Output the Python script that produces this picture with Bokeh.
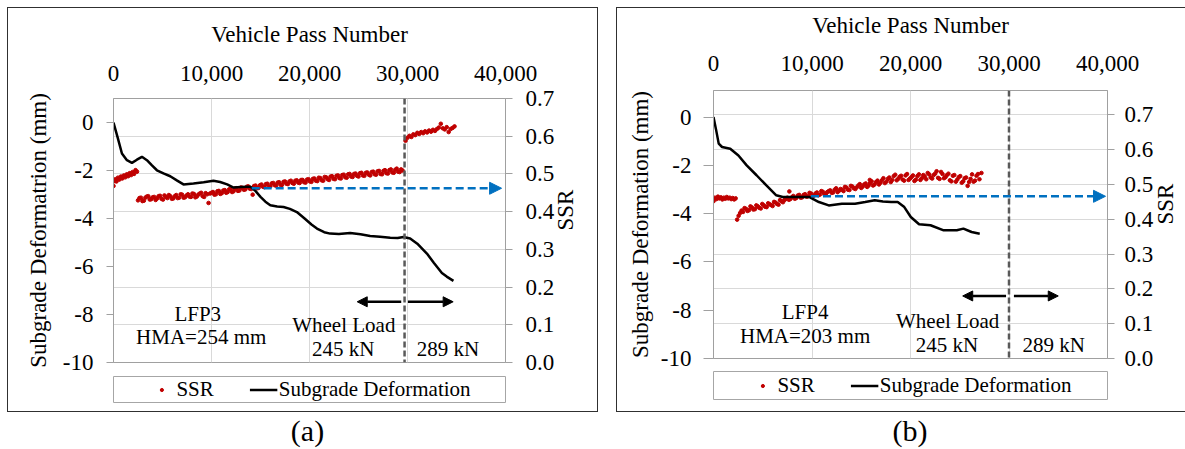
import math
from bokeh.plotting import figure
from bokeh.models import (Range1d, LinearAxis, FixedTicker, NumeralTickFormatter, Grid, Span,
                          Arrow, NormalHead, Label, Legend, LegendItem, Div, Spacer)
from bokeh.layouts import row, column
from bokeh.embed import file_html
from bokeh.resources import INLINE

# ---------------------------------------------------------------- data
X_TICKS = [0, 10000, 20000, 30000, 40000]
X_GRID = [10000, 20000, 30000]
DEF_TICKS = [-10, -8, -6, -4, -2, 0]
SSR_TICKS = [0.0, 0.1, 0.2, 0.3, 0.4, 0.5, 0.6, 0.7]
X_TITLE = "Vehicle Pass Number"
SSR_TITLE = "SSR"
LEGEND_LABELS = ["SSR", "Subgrade Deformation"]

# ---- panel (a) LFP3
A_DEF_TITLE = "Subgrade Deformatrion (mm)"
A_DEF_PASS = [0, 420, 860, 1370, 1880, 2390, 2900, 3410, 3900, 4430,
              5100, 5790, 6500, 7140, 8160, 9200, 10200, 10880, 11600, 12250,
              13000, 13610, 14000, 14500, 15000, 15500, 16000, 16700, 17350, 18000,
              18710, 19500, 20200, 20760, 21500, 22110, 23000, 24150, 25200, 26190,
              27200, 28240, 29000, 29590, 30270, 31000, 31980, 32700, 33510, 34000,
              34690]
A_DEF = [0.0, -0.62, -1.29, -1.57, -1.68, -1.55, -1.43, -1.57, -1.78, -1.99,
         -2.12, -2.24, -2.42, -2.58, -2.54, -2.49, -2.43, -2.48, -2.58, -2.71,
         -2.69, -2.68, -2.68, -2.86, -3.10, -3.30, -3.45, -3.50, -3.52, -3.60,
         -3.73, -4.00, -4.25, -4.42, -4.57, -4.63, -4.65, -4.60, -4.66, -4.73,
         -4.76, -4.80, -4.81, -4.77, -4.83, -5.05, -5.46, -5.85, -6.27, -6.42,
         -6.60]
A_SSR_PASS = [0, 100, 200, 300, 450, 600, 750, 900, 1050, 1200, 1350, 1500, 1650, 1800, 1950, 2100, 2250, 2400,
              2500, 2800, 3100, 3400, 3700, 4000, 4300, 4600, 4900, 5200,
              5500, 5800, 6100, 6400, 6700, 7000, 7300, 7600, 7900, 8200,
              8500, 8800, 9100, 9400, 9700, 10000, 10300, 10600, 10900, 11200,
              11500, 11800, 12100, 12400, 12700, 13000, 13300, 13600, 13900, 14200,
              14500, 14800, 15100, 15400, 15700, 16000, 16300, 16600, 16900, 17200,
              17500, 17800, 18100, 18400, 18700, 19000, 19300, 19600, 19900, 20200,
              20500, 20800, 21100, 21400, 21700, 22000, 22300, 22600, 22900, 23200,
              23500, 23800, 24100, 24400, 24700, 25000, 25300, 25600, 25900, 26200,
              26500, 26800, 27100, 27400, 27700, 28000, 28300, 28600, 28900, 29200,
              29500,
              29800, 30000, 30200, 30400, 30600, 30800, 31000, 31200, 31400, 31600,
              31800, 32000, 32200, 32400, 32600, 32800, 33000, 33200, 33400, 33600,
              33800, 34000, 34200, 34400, 34600, 34800,
              2650, 2950, 3250, 3550, 3850, 4150, 4450, 4750, 5050, 5350,
              5650, 5950, 6250, 6550, 6850, 7150, 7450, 7750, 8050, 8350,
              8650, 8950, 9250, 9550, 9850, 10150, 10450,
              10750, 11050, 11350, 11650, 11950, 12250, 12550, 12850, 13150, 13450,
              13750, 14050, 14350, 14650, 14950, 15250, 15550, 15850, 16150, 16450,
              16750, 17050, 17350, 17650, 17950, 18250, 18550, 18850, 19150, 19450,
              19750, 20050, 20350, 20650, 20950, 21250, 21550, 21850, 22150, 22450,
              22750, 23050, 23350, 23650, 23950, 24250, 24550, 24850, 25150, 25450,
              25750, 26050, 26350, 26650, 26950, 27250, 27550, 27850, 28150, 28450,
              28750, 29050, 29350]
A_SSR = [0.468, 0.481, 0.486, 0.480, 0.490, 0.485, 0.493, 0.488, 0.496, 0.491, 0.499, 0.494, 0.502, 0.497, 0.505, 0.500, 0.510, 0.506,
         0.430, 0.437, 0.429, 0.440, 0.432, 0.438, 0.431, 0.441, 0.434, 0.443,
         0.436, 0.441, 0.435, 0.444, 0.437, 0.445, 0.438, 0.446, 0.439, 0.447,
         0.440, 0.448, 0.441, 0.449, 0.423, 0.450, 0.445, 0.454, 0.447, 0.456,
         0.450, 0.459, 0.452, 0.461, 0.455, 0.464, 0.458, 0.466, 0.461, 0.445,
         0.469, 0.463, 0.472, 0.465, 0.474, 0.467, 0.476, 0.469, 0.478, 0.471,
         0.480, 0.473, 0.482, 0.474, 0.483, 0.476, 0.484, 0.477, 0.486, 0.479,
         0.488, 0.481, 0.489, 0.482, 0.491, 0.484, 0.494, 0.486, 0.496, 0.488,
         0.498, 0.490, 0.500, 0.492, 0.501, 0.493, 0.503, 0.495, 0.504, 0.496,
         0.506, 0.498, 0.508, 0.499, 0.510, 0.501, 0.512, 0.503, 0.514, 0.505,
         0.509,
         0.588, 0.596, 0.601, 0.598, 0.605, 0.603, 0.609, 0.606, 0.611, 0.608,
         0.613, 0.610, 0.615, 0.612, 0.617, 0.614, 0.619, 0.623, 0.633, 0.621,
         0.618, 0.624, 0.611, 0.619, 0.622, 0.626,
         0.436, 0.428, 0.437, 0.441, 0.433, 0.439, 0.435, 0.442, 0.432, 0.439,
         0.444, 0.434, 0.441, 0.436, 0.446, 0.437, 0.443, 0.440, 0.448, 0.438,
         0.445, 0.450, 0.439, 0.446, 0.448, 0.452, 0.446,
         0.455, 0.449, 0.457, 0.452, 0.460, 0.454, 0.462, 0.456, 0.463, 0.459,
         0.467, 0.460, 0.468, 0.462, 0.470, 0.466, 0.473, 0.466, 0.475, 0.470,
         0.477, 0.471, 0.479, 0.474, 0.480, 0.476, 0.482, 0.477, 0.484, 0.478,
         0.485, 0.480, 0.487, 0.482, 0.490, 0.483, 0.492, 0.486, 0.493, 0.487,
         0.495, 0.489, 0.497, 0.491, 0.499, 0.493, 0.500, 0.495, 0.502, 0.496,
         0.503, 0.498, 0.505, 0.499, 0.507, 0.500, 0.508, 0.502, 0.510, 0.504,
         0.511, 0.506, 0.512]
A_LOAD_CHANGE = 29700
A_REF_SSR = 0.462
A_REF_FROM, A_REF_TO = 14100, 39600
A_ARROW_Y = -7.47
A_ARROWS = [(29360, 24870), (30040, 34660)]
A_NOTES = [("LFP3", 8600, -7.96), ("HMA=254 mm", 8950, -8.93),
           ("Wheel Load", 23500, -8.45), ("245 kN", 23440, -9.42), ("289 kN", 34130, -9.42)]
A_CAPTION = "(a)"

# ---- panel (b) LFP4
B_DEF_TITLE = "Subgrade Deformation (mm)"
B_DEF_PASS = [0, 250, 530, 870, 1700, 2530, 3370, 4370, 5370, 6370,
              7030, 8370, 9700, 10700, 11700, 13030, 14370, 15400, 16370, 17200,
              18030, 18700, 19370, 20030, 20870, 22030, 23370, 24700, 25370, 26200,
              27030]
B_DEF = [0.0, -0.50, -1.10, -1.24, -1.31, -1.59, -2.00, -2.41, -2.83, -3.24,
         -3.31, -3.31, -3.31, -3.52, -3.66, -3.59, -3.59, -3.52, -3.45, -3.50,
         -3.52, -3.52, -3.73, -4.14, -4.44, -4.48, -4.69, -4.69, -4.62, -4.76,
         -4.83]
B_SSR_PASS = [0, 150, 300, 450, 600, 750, 900, 1050, 1200, 1350, 1500, 1650, 1800, 1950, 2100, 2250,
              2400, 2550, 2700, 2850,
              3000, 3300, 3600, 3900, 4200, 4500, 4800, 5100, 5400, 5700,
              6000, 6300, 6600, 6900, 7200, 7500, 7800, 8100, 8400, 8700,
              9000, 9300, 9600, 9900, 10200, 10500, 10800, 11100, 11400, 11700,
              12000, 12300, 12600, 12900, 13200, 13500, 13800, 14100, 14400, 14700,
              15000, 15300, 15600, 15900, 16200, 16500, 16800, 17100, 17400, 17700,
              18000, 18300, 18600, 18900, 19200, 19500, 19800, 20100, 20400, 20700,
              21000, 21300, 21600, 21900, 22200, 22500, 22800, 23100, 23400, 23700,
              24000, 24300, 24600, 24900, 25200, 25500, 25800, 26100, 26400, 26700,
              27000, 27200, 7700, 15870,
              3150, 3450, 3750, 4050, 4350, 4650, 4950, 5250, 5550, 5850,
              6150, 6450, 6750, 7050, 7350, 7650, 7950, 8250, 8550, 8850,
              9150, 9450, 9750, 10050, 10350, 10650, 10950, 11250, 11550, 11850,
              12150, 12450, 12750, 13050, 13350, 13650, 13950, 14250, 14550, 14850,
              15150, 15450, 15750, 16050, 16350, 16650, 16950, 17250, 17550, 17850,
              18150, 18450, 18750, 19050, 19350, 19650, 19950, 20250, 20550, 20850,
              21150, 21450, 21750, 22050, 22350, 22650, 22950, 23250, 23550, 23850,
              24150, 24450, 24750, 25050, 25350, 25650, 25950, 26250, 26550, 26850]
B_SSR = [0.452, 0.462, 0.458, 0.465, 0.460, 0.463, 0.457, 0.462, 0.459, 0.464, 0.460, 0.462, 0.458, 0.461, 0.457, 0.460,
         0.399, 0.410, 0.418, 0.425,
         0.421, 0.430, 0.426, 0.434, 0.429, 0.437, 0.431, 0.440, 0.435, 0.443,
         0.438, 0.448, 0.442, 0.452, 0.455, 0.462, 0.458, 0.467, 0.461, 0.470,
         0.463, 0.472, 0.466, 0.474, 0.468, 0.477, 0.471, 0.479, 0.473, 0.481,
         0.476, 0.485, 0.478, 0.487, 0.481, 0.491, 0.484, 0.494, 0.487, 0.497,
         0.490, 0.500, 0.493, 0.504, 0.497, 0.507, 0.500, 0.512, 0.504, 0.516,
         0.507, 0.524, 0.512, 0.522, 0.514, 0.526, 0.513, 0.521, 0.510, 0.524,
         0.513, 0.527, 0.515, 0.529, 0.517, 0.531, 0.519, 0.536, 0.518, 0.527,
         0.512, 0.525, 0.508, 0.521, 0.505, 0.518, 0.496, 0.516, 0.508, 0.525,
         0.515, 0.533, 0.480, 0.513,
         0.432, 0.424, 0.437, 0.428, 0.440, 0.433, 0.444, 0.436, 0.446, 0.441,
         0.450, 0.444, 0.455, 0.449, 0.459, 0.456, 0.463, 0.459, 0.468, 0.462,
         0.470, 0.465, 0.476, 0.467, 0.474, 0.469, 0.481, 0.472, 0.478, 0.483,
         0.477, 0.489, 0.482, 0.485, 0.493, 0.485, 0.496, 0.489, 0.492, 0.501,
         0.494, 0.503, 0.497, 0.509, 0.500, 0.511, 0.505, 0.518, 0.508, 0.520,
         0.513, 0.528, 0.516, 0.525, 0.511, 0.530, 0.517, 0.526, 0.514, 0.529,
         0.518, 0.523, 0.533, 0.520, 0.527, 0.538, 0.516, 0.530, 0.521, 0.531,
         0.509, 0.527, 0.514, 0.524, 0.509, 0.520, 0.507, 0.529, 0.511, 0.530]
B_LOAD_CHANGE = 30000
B_REF_SSR = 0.466
B_REF_FROM, B_REF_TO = 9900, 39800
B_ARROW_Y = -7.41
B_ARROWS = [(29700, 25300), (30500, 35000)]
B_NOTES = [("LFP4", 9300, -8.07), ("HMA=203 mm", 9300, -9.07),
           ("Wheel Load", 23770, -8.44), ("245 kN", 23700, -9.45), ("289 kN", 34550, -9.45)]
B_CAPTION = "(b)"

# ---------------------------------------------------------------- style
FONT = "Liberation Serif"
TICK_FS = "23px"
NOTE_FS = "21px"
RED = "#C00000"
BLUE = "#0070C0"
AXIS_GRAY = "#a0a0a0"
GRID_GRAY = "#d9d9d9"
MARKER_SIZE = 3.6


def style_axis(ax, tick_out, std, lab_std):
    ax.major_label_text_font = FONT
    ax.major_label_text_font_size = TICK_FS
    ax.major_label_text_color = "black"
    ax.axis_label_text_font = FONT
    ax.axis_label_text_font_size = TICK_FS
    ax.axis_label_text_font_style = "normal"
    ax.axis_label_text_color = "black"
    ax.axis_line_color = AXIS_GRAY
    ax.major_tick_line_color = AXIS_GRAY if tick_out > 0 else None
    ax.major_tick_out = tick_out
    ax.major_tick_in = 0
    ax.minor_tick_line_color = None
    ax.major_label_standoff = std
    ax.axis_label_standoff = lab_std


def main_plot(g, def_title, def_pass, def_vals, ssr_pass, ssr_vals, load_change,
              ref_ssr, ref_from, ref_to, arrow_y, arrows, notes):
    p = figure(width=g["width"], height=g["height"], x_range=Range1d(0, 40000),
               y_range=Range1d(-10, g["y_top"]), x_axis_location="above",
               output_backend="svg", toolbar_location=None,
               min_border_left=g["left"], min_border_right=g["right"],
               min_border_top=g["top"], min_border_bottom=g["bottom"])
    p.extra_y_ranges = {"ssr": Range1d(0, g["ssr_top"])}
    p.background_fill_color = "white"
    p.border_fill_color = "white"
    p.outline_line_color = AXIS_GRAY
    p.outline_line_width = 1

    p.xgrid.ticker = FixedTicker(ticks=X_GRID)
    p.xgrid.grid_line_color = GRID_GRAY
    p.ygrid.visible = False
    p.add_layout(Grid(dimension=1, ticker=FixedTicker(ticks=SSR_TICKS), y_range_name="ssr",
                      grid_line_color=GRID_GRAY, grid_line_width=1))

    xa = p.above[0]
    xa.ticker = FixedTicker(ticks=X_TICKS)
    xa.formatter = NumeralTickFormatter(format="0,0")
    xa.axis_label = X_TITLE
    style_axis(xa, 0, g["x_std"], g["x_lab_std"])
    xa.axis_line_color = None

    ya = p.left[0]
    ya.ticker = FixedTicker(ticks=DEF_TICKS)
    ya.formatter = NumeralTickFormatter(format="0")
    ya.axis_label = def_title
    style_axis(ya, g["l_tick"], g["l_std"], g["l_lab_std"])

    ra = LinearAxis(y_range_name="ssr", ticker=FixedTicker(ticks=SSR_TICKS),
                    formatter=NumeralTickFormatter(format="0.0"), axis_label=SSR_TITLE)
    style_axis(ra, 7, g["r_std"], g["r_lab_std"])
    ra.axis_label_orientation = math.pi / 2
    p.add_layout(ra, "right")

    p.scatter(ssr_pass, ssr_vals, y_range_name="ssr", marker="circle", size=MARKER_SIZE,
              fill_color=RED, line_color=RED)
    p.line(def_pass, def_vals, line_color="black", line_width=2.5)

    p.add_layout(Span(location=load_change, dimension="height", line_color="#595959",
                      line_width=2.5, line_dash="6 3"))
    p.add_layout(Arrow(x_start=ref_from, y_start=ref_ssr, x_end=ref_to, y_end=ref_ssr,
                       y_range_name="ssr", line_color=BLUE, line_width=2.5, line_dash="8 4",
                       end=NormalHead(size=12, fill_color=BLUE, line_color=BLUE)))
    for (xs, xe) in arrows:
        p.add_layout(Arrow(x_start=xs, y_start=arrow_y, x_end=xe, y_end=arrow_y,
                           line_color="black", line_width=2.5,
                           end=NormalHead(size=10, fill_color="black", line_color="black")))
    for (t, x, y) in notes:
        p.add_layout(Label(x=x, y=y, text=t, text_align="center", text_baseline="middle",
                           text_font=FONT, text_font_size=NOTE_FS, text_color="black"))
    return p


def legend_plot(g, def_pass, def_vals, ssr_pass, ssr_vals):
    # a thin figure whose frame outline is the legend box; the series are drawn
    # again here only as legend sources (their values fall outside this frame's ranges)
    q = figure(width=g["width"], height=g["leg_h"], x_range=Range1d(0, 1), y_range=Range1d(10, 11),
               x_axis_location=None, y_axis_location=None,
               output_backend="svg", toolbar_location=None,
               min_border_left=g["leg_left"], min_border_right=g["width"] - g["leg_left"] - g["leg_w"],
               min_border_top=g["leg_top"], min_border_bottom=g["leg_bottom"])
    q.grid.visible = False
    q.outline_line_color = "#a6a6a6"
    q.background_fill_color = "white"
    q.border_fill_color = "white"
    r1 = q.scatter(ssr_pass, ssr_vals, marker="circle", size=MARKER_SIZE,
                   fill_color=RED, line_color=RED)
    r2 = q.line(def_pass, def_vals, line_color="black", line_width=2.5)
    q.add_layout(Legend(items=[LegendItem(label=LEGEND_LABELS[0], renderers=[r1]),
                               LegendItem(label=LEGEND_LABELS[1], renderers=[r2])],
                        orientation="horizontal", location="center", margin=0, padding=0,
                        spacing=36, glyph_width=28, glyph_height=8, label_standoff=1,
                        label_text_font=FONT, label_text_font_size=NOTE_FS,
                        label_text_color="black",
                        border_line_color=None, background_fill_alpha=0))
    return q


def panel(g, caption, def_title, def_pass, def_vals, ssr_pass, ssr_vals, *rest):
    p = main_plot(g, def_title, def_pass, def_vals, ssr_pass, ssr_vals, *rest)
    q = legend_plot(g, def_pass, def_vals, ssr_pass, ssr_vals)
    boxed = column(p, q, styles={"outline": "1px solid #303030", "outline-offset": "0px"})
    cap = Div(text=("<div style=\"font-family:'Liberation Serif',serif;font-size:30px;"
                    "line-height:30px;text-align:center;color:#000000;width:%dpx\">%s</div>"
                    % (g["width"], caption)),
              width=g["width"], height=36)
    return column(boxed, cap)


GEOM_A = dict(width=589, height=367, left=105, right=92, top=90, bottom=13, y_top=1.0, ssr_top=0.7,
              x_std=18, x_lab_std=16, l_tick=7, l_std=13, l_lab_std=9, r_std=13, r_lab_std=8,
              leg_h=36, leg_left=104, leg_w=393, leg_top=1, leg_bottom=9)
GEOM_B = dict(width=576, height=362, left=96, right=80, top=82, bottom=12, y_top=1.1, ssr_top=0.77,
              x_std=20, x_lab_std=15, l_tick=10, l_std=12, l_lab_std=5, r_std=10, r_lab_std=9,
              leg_h=41, leg_left=96, leg_w=402, leg_top=1, leg_bottom=12)

pan_a = panel(GEOM_A, A_CAPTION, A_DEF_TITLE, A_DEF_PASS, A_DEF, A_SSR_PASS, A_SSR, A_LOAD_CHANGE,
              A_REF_SSR, A_REF_FROM, A_REF_TO, A_ARROW_Y, A_ARROWS, A_NOTES)
pan_b = panel(GEOM_B, B_CAPTION, B_DEF_TITLE, B_DEF_PASS, B_DEF, B_SSR_PASS, B_SSR, B_LOAD_CHANGE,
              B_REF_SSR, B_REF_FROM, B_REF_TO, B_ARROW_Y, B_ARROWS, B_NOTES)

layout = column(Spacer(height=8),
                row(Spacer(width=8), pan_a, Spacer(width=10), pan_b))
open("out.html", "w").write(file_html(layout, INLINE))
